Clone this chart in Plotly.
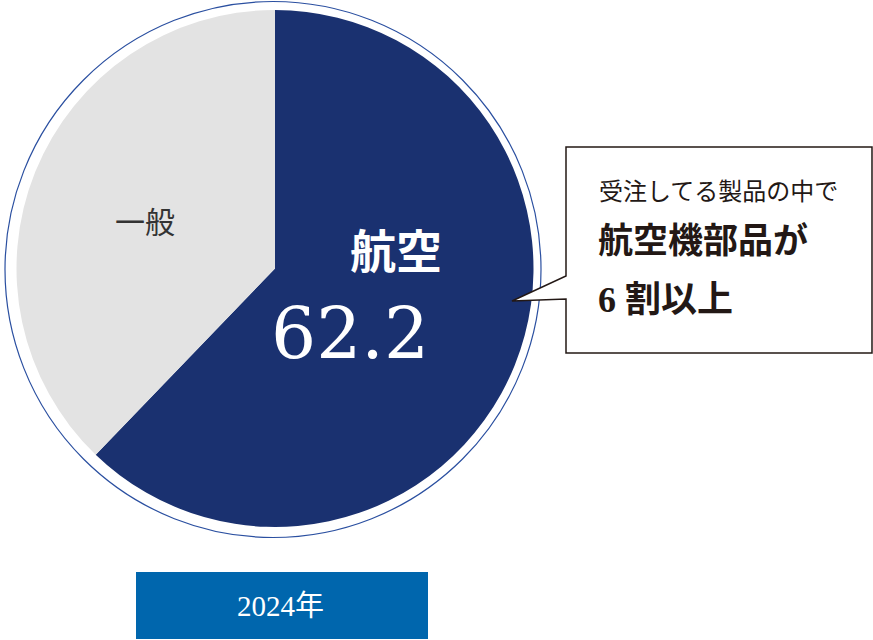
import plotly.graph_objects as go

# data
labels = ["航空", "一般"]
values = [62.2, 37.8]
colors = ["#1a3170", "#e3e3e3"]
year_label = "2024年"
callout_lines = ["受注してる製品の中で", "航空機部品が", "6 割以上"]

W, H = 873, 640


def px(x):
    return x / W


def py(y):
    return 1 - y / H


# pie geometry (pixels)
cx, cy, r = 275, 268.5, 258.5

fig = go.Figure()
fig.add_trace(go.Pie(
    labels=labels, values=values,
    marker=dict(colors=colors, line=dict(width=0)),
    sort=False, direction="clockwise", rotation=0,
    textinfo="none", hoverinfo="label+value",
    showlegend=False,
    domain=dict(x=[px(cx - r), px(cx + r)], y=[py(cy + r), py(cy - r)]),
))

jp = "Liberation Serif, Noto Sans CJK JP"

# outer thin ring
R = 268
shapes = [
    dict(type="circle", xref="paper", yref="paper",
         x0=px(cx - 2 - R), x1=px(cx - 2 + R), y0=py(cy + 1 + R), y1=py(cy + 1 - R),
         line=dict(color="#2a4fa0", width=1.2), fillcolor="rgba(0,0,0,0)"),
]

# callout box with pointer
pts = [(566, 147), (872, 147), (872, 353), (566, 353), (566, 299), (512, 301), (566, 276)]
path = "M " + " L ".join(f"{px(x):.5f},{py(y):.5f}" for x, y in pts) + " Z"
shapes.append(dict(type="path", xref="paper", yref="paper", path=path,
                   fillcolor="white", line=dict(color="#231815", width=1.5)))

# year box
shapes.append(dict(type="rect", xref="paper", yref="paper",
                   x0=px(136), x1=px(428), y0=py(639), y1=py(572),
                   fillcolor="#0066ad", line=dict(width=0)))

annotations = [
    dict(x=px(396), y=py(252), text=labels[0],
         font=dict(family=jp, size=46, color="white", weight="bold")),
    dict(x=px(350), y=py(333), text=f"{values[0]:.1f}",
         font=dict(family="DejaVu Serif", size=71, color="white")),
    dict(x=px(145), y=py(222), text=labels[1],
         font=dict(family=jp, size=30, color="#333333")),
    dict(x=px(597), y=py(192), text=callout_lines[0], xanchor="left",
         font=dict(family=jp, size=24, color="#231815")),
    dict(x=px(596), y=py(241), text=callout_lines[1], xanchor="left",
         font=dict(family=jp, size=35, color="#231815", weight="bold")),
    dict(x=px(596), y=py(300), text=callout_lines[2], xanchor="left",
         font=dict(family=jp, size=36, color="#231815", weight="bold")),
    dict(x=px(280), y=py(606), text=year_label,
         font=dict(family=jp, size=29, color="white")),
]
for a in annotations:
    a.update(xref="paper", yref="paper", showarrow=False)
    a.setdefault("xanchor", "center")
    a["yanchor"] = "middle"

fig.update_layout(
    width=W, height=H,
    margin=dict(l=0, r=0, t=0, b=0),
    paper_bgcolor="white", plot_bgcolor="white",
    shapes=shapes, annotations=annotations,
)

# page body has a default 8px margin; drop it so the figure fills the window
fig.write_html("out.html", config={"displayModeBar": False},
               post_script="document.body.style.margin='0';")
